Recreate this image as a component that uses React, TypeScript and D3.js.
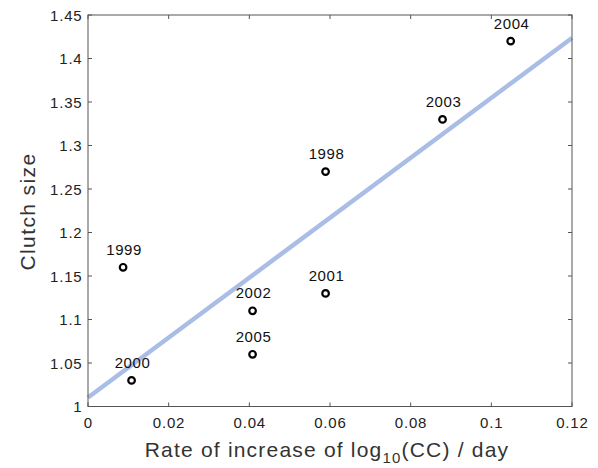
import React from "react";
import * as d3 from "d3";

const years = ["1999", "2000", "2002", "2005", "1998", "2001", "2003", "2004"];
const rates = [0.0087, 0.0108, 0.0408, 0.0408, 0.0589, 0.0589, 0.0879, 0.1048];
const clutch = [1.16, 1.03, 1.11, 1.06, 1.27, 1.13, 1.33, 1.42];
const fitX = [0, 0.12];
const fitY = [1.0103, 1.4236];
const xTicks = [0, 0.02, 0.04, 0.06, 0.08, 0.1, 0.12];
const yTicks = [1, 1.05, 1.1, 1.15, 1.2, 1.25, 1.3, 1.35, 1.4, 1.45];

const W = 598, H = 468;
const L = 88, R = 572, T = 15, B = 406.5;

export default function App() {
  const x = d3.scaleLinear().domain([0, 0.12]).range([L, R]);
  const y = d3.scaleLinear().domain([1, 1.45]).range([B, T]);
  const font = "Helvetica, Arial, 'Liberation Sans', sans-serif";
  const line = d3.line<number>().x((_, i) => x(fitX[i])).y((d) => y(d));
  const fmt = (v: number) => String(+v.toFixed(2));
  return (
    <svg width={W} height={H} style={{ position: "absolute", left: 0, top: 0 }} fontFamily={font}>
      <rect width={W} height={H} fill="#fff" />
      <path d={line(fitY) || ""} stroke="#a9bde6" strokeWidth={4.5} fill="none" />
      <rect x={L} y={T} width={R - L} height={B - T} fill="none" stroke="#555" strokeWidth={1} />
      {xTicks.map((t) => (
        <g key={"x" + t}>
          <line x1={x(t)} x2={x(t)} y1={B} y2={B - 4} stroke="#555" />
          <line x1={x(t)} x2={x(t)} y1={T} y2={T + 4} stroke="#555" />
          <text x={x(t) + 0.4} y={428} textAnchor="middle" fontSize={15} letterSpacing={0.8} fill="#222">{fmt(t)}</text>
        </g>
      ))}
      {yTicks.map((t) => (
        <g key={"y" + t}>
          <line x1={L} x2={L + 4} y1={y(t)} y2={y(t)} stroke="#555" />
          <line x1={R} x2={R - 4} y1={y(t)} y2={y(t)} stroke="#555" />
          <text x={82.5} y={y(t) + 5.5} textAnchor="end" fontSize={15} letterSpacing={0.8} fill="#222">{fmt(t)}</text>
        </g>
      ))}
      {rates.map((r, i) => (
        <g key={years[i]}>
          <circle cx={x(r)} cy={y(clutch[i])} r={3.3} fill="#fff" stroke="#000" strokeWidth={2.2} />
          <text x={x(r) + 1} y={y(clutch[i]) - 12.5} textAnchor="middle" fontSize={15} letterSpacing={0.6} fill="#111">{years[i]}</text>
        </g>
      ))}
      <text transform={`translate(35,211.5) rotate(-90)`} textAnchor="middle" fontSize={21} letterSpacing={1.4} fill="#333">Clutch size</text>
      <text x={327} y={457} textAnchor="middle" fontSize={21} letterSpacing={1.2} fill="#333">
        Rate of increase of log<tspan dy={6} fontSize={15}>10</tspan><tspan dy={-6}>(CC) / day</tspan>
      </text>
    </svg>
  );
}
